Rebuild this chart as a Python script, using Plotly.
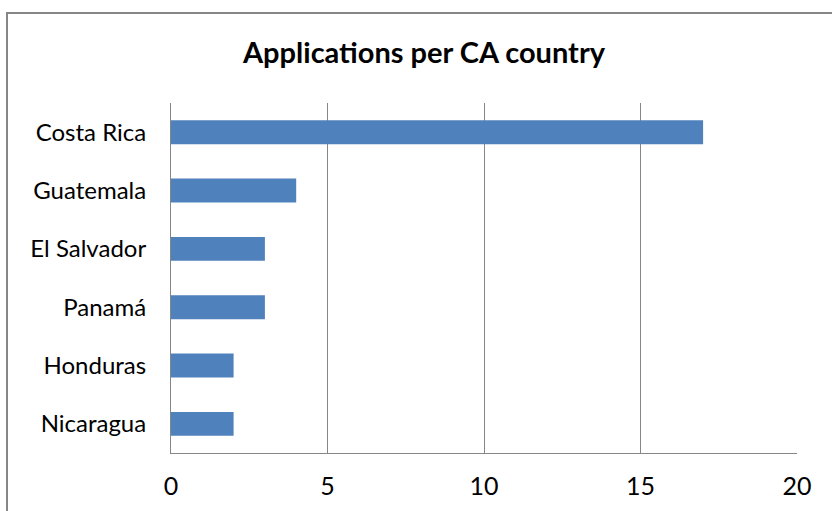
import plotly.graph_objects as go

countries = ["Costa Rica", "Guatemala", "El Salvador", "Panamá", "Honduras", "Nicaragua"]
applications = [17, 4, 3, 3, 2, 2]
x_ticks = [0, 5, 10, 15, 20]

W, H = 832, 511
L, R, T, B = 171, 35, 103, 58
pw, ph = W - L - R, H - T - B

fig = go.Figure(go.Bar(
    y=countries, x=applications, orientation="h",
    marker=dict(color="#4F81BD", line=dict(width=0)),
))

fig.update_layout(
    width=W, height=H,
    margin=dict(l=L, r=R, t=T, b=B, autoexpand=False),
    paper_bgcolor="white", plot_bgcolor="white",
    bargap=0.59,
    showlegend=False,
    title=dict(text="<b>Applications per CA country</b>", x=(424 - L) / pw, xref="paper",
               xanchor="center", y=1 - 53 / H, yanchor="middle",
               font=dict(family="Lato", size=29, color="black")),
    font=dict(family="Lato", size=24, color="black"),
)
fig.update_xaxes(range=[0, 20], tickvals=x_ticks, showgrid=True, gridcolor="#868686", gridwidth=1,
                 showline=True, linecolor="#868686", linewidth=1, zeroline=False, automargin=False,
                 ticks="", ticklabelstandoff=11, tickfont=dict(size=25))
fig.update_yaxes(categoryorder="array", categoryarray=countries[::-1], autorange=True,
                 showline=True, linecolor="#868686", linewidth=1, ticks="", automargin=False,
                 ticklabelstandoff=19, tickfont=dict(size=24))

fig.add_shape(type="rect", xref="paper", yref="paper",
              x0=(7 - L) / pw, x1=(W + 10 - L) / pw,
              y0=(T + ph - (H + 10)) / ph, y1=(T + ph - 13) / ph,
              line=dict(color="#868686", width=2), fillcolor="rgba(0,0,0,0)", layer="below")

fig.write_html("out.html", config={"displayModeBar": False},
               post_script="document.body.style.margin='0';document.body.style.overflow='hidden';")
